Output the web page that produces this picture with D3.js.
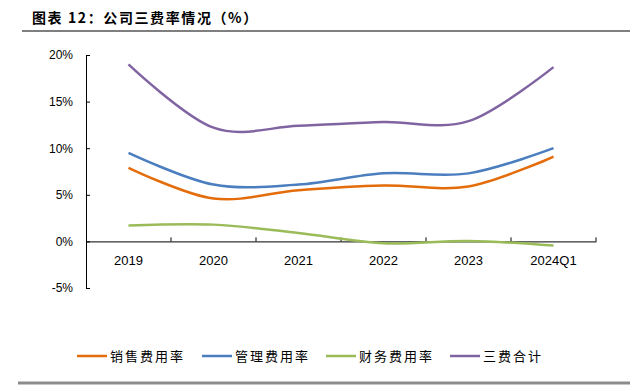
<!DOCTYPE html>
<html>
<head>
<meta charset="utf-8">
<script src="https://cdn.jsdelivr.net/npm/d3@7"></script>
<style>
  body { margin: 0; background: #fff; }
  svg { display: block; }
  .tick text { font-family: "Liberation Sans", Arial, sans-serif; font-size: 12px; fill: #000; }
</style>
</head>
<body>
<svg id="chart" width="630" height="385"></svg>
<script>
// categories and series (percent)
const years = ["2019", "2020", "2021", "2022", "2023", "2024Q1"];
const salesRate = [7.9, 4.6, 5.5, 6.0, 5.9, 9.1];
const adminRate = [9.5, 6.1, 6.1, 7.3, 7.3, 10.0];
const financeRate = [1.7, 1.8, 0.9, -0.2, 0.05, -0.45];
const totalRate = [19.0, 12.2, 12.4, 12.8, 12.9, 18.7];
const yTicks = [-5, 0, 5, 10, 15, 20];

const seriesNames = ["销售费用率", "管理费用率", "财务费用率", "三费合计"];
const seriesColors = ["#E46C0A", "#4A7EBF", "#9BBB59", "#8064A2"];
const seriesValues = [salesRate, adminRate, financeRate, totalRate];

const svg = d3.select("#chart");

// title + rules
svg.append("text")
    .attr("x", 32).attr("y", 23)
    .attr("font-family", "'Noto Sans CJK SC', sans-serif")
    .attr("font-size", 14).attr("font-weight", "bold")
    .attr("letter-spacing", 1.6)
    .text("图表 12：公司三费率情况（%）");
svg.append("line").attr("x1", 22).attr("x2", 630).attr("y1", 31).attr("y2", 31)
    .attr("stroke", "#555").attr("stroke-width", 1.5);
svg.append("line").attr("x1", 18).attr("x2", 630).attr("y1", 383).attr("y2", 383)
    .attr("stroke", "#8c8c8c").attr("stroke-width", 3);

const x = d3.scaleBand().domain(years).range([86, 596]);
const y = d3.scaleLinear().domain([-5, 20]).range([288, 55]);

// y axis, ticks pointing inward
const yAxis = svg.append("g").attr("transform", "translate(86,0)")
    .call(d3.axisRight(y).tickValues(yTicks).tickSize(4).tickFormat(d => d + "%"));
yAxis.select(".domain").attr("stroke", "#000").attr("d", "M4,55.5H0.5V288.5H4");
yAxis.selectAll(".tick text").attr("x", -13).attr("text-anchor", "end");

// x axis along 0
const xAxis = svg.append("g").attr("transform", `translate(0,${y(0)})`)
    .call(d3.axisTop(x).tickSize(0).tickFormat(""));
xAxis.select(".domain").attr("stroke", "#000");
xAxis.selectAll(".tick").remove();
const bounds = years.map(d => x(d) + x.bandwidth());
xAxis.selectAll("line.sep").data(bounds).enter().append("line")
    .attr("x1", d => d).attr("x2", d => d).attr("y1", 0).attr("y2", -4)
    .attr("stroke", "#000");
xAxis.selectAll("text.lab").data(years).enter().append("text")
    .attr("x", d => x(d) + x.bandwidth() / 2).attr("y", 24)
    .attr("text-anchor", "middle")
    .attr("fill", "#000")
    .attr("font-family", "'Liberation Sans', Arial, sans-serif").attr("font-size", 13)
    .text(d => d);

// lines
const line = d3.line()
    .x((d, i) => x(years[i]) + x.bandwidth() / 2)
    .y(d => y(d))
    .curve(d3.curveCardinal.tension(0));

svg.append("g").selectAll("path").data(seriesValues).enter().append("path")
    .attr("d", line)
    .attr("fill", "none")
    .attr("stroke", (d, i) => seriesColors[i])
    .attr("stroke-width", 2.5);

// legend
const legendX = [77, 202, 326, 450];
const legend = svg.append("g").selectAll("g").data(seriesNames).enter().append("g")
    .attr("transform", (d, i) => `translate(${legendX[i]},356)`);
legend.append("line").attr("x1", 0).attr("x2", 30).attr("y1", 0).attr("y2", 0)
    .attr("stroke", (d, i) => seriesColors[i]).attr("stroke-width", 2.5);
legend.append("text").attr("x", 33).attr("y", 5)
    .attr("font-family", "'Noto Sans CJK SC', sans-serif").attr("font-size", 13)
    .attr("letter-spacing", 2)
    .text(d => d);
</script>
</body>
</html>
